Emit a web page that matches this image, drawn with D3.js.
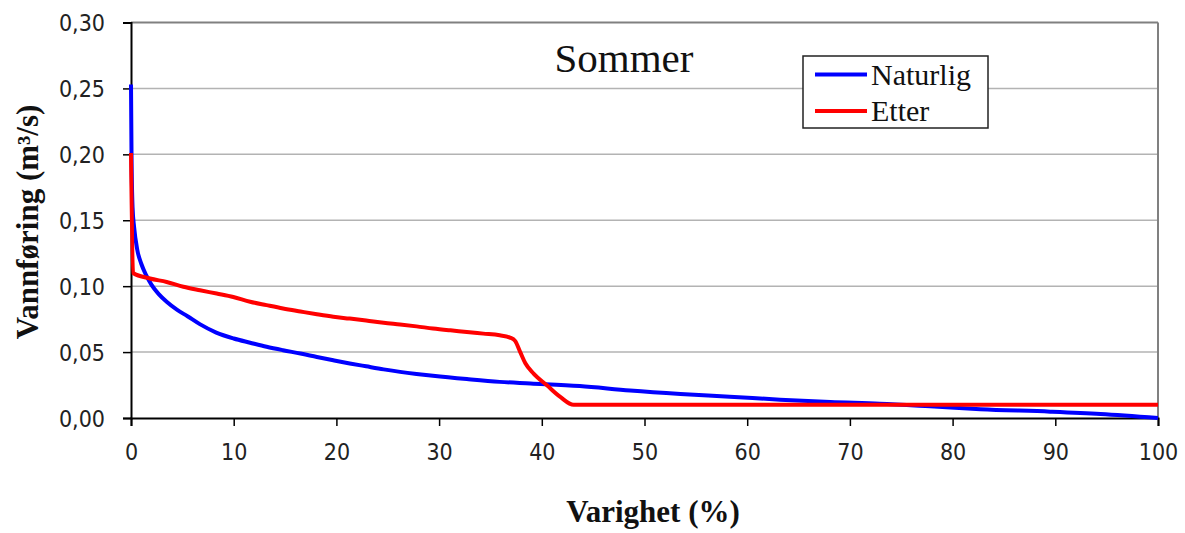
<!DOCTYPE html>
<html>
<head>
<meta charset="utf-8">
<script src="https://cdn.jsdelivr.net/npm/d3@7/dist/d3.min.js"></script>
<style>
  html, body { margin: 0; padding: 0; background: #fff; }
  svg { display: block; }
</style>
</head>
<body>
<svg id="chart" width="1185" height="533"></svg>
<script>
// ---- Data ----
const title = "Sommer";
const xLabel = "Varighet (%)";
const yLabel = "Vannføring (m³/s)";
const seriesNames = ["Naturlig", "Etter"];
const xTicks = [0, 10, 20, 30, 40, 50, 60, 70, 80, 90, 100];
const yTicks = [0, 0.05, 0.10, 0.15, 0.20, 0.25, 0.30];

const naturligX = [0, 0.05, 0.15, 0.3, 0.6, 1.0, 1.5, 2.0, 2.7, 3.5, 4.5, 5.5, 6.7, 8.3, 10, 11.6, 13.2, 14.8, 16.5, 18.1, 19.7, 21.3, 22.9, 24.6, 26.2, 27.8, 29.4, 32.7, 35.9, 38.9, 43.7, 48.6, 53.5, 58.3, 63.2, 68.1, 72.9, 77.8, 82.7, 89.5, 94.4, 100];
const naturligY = [0.253, 0.20, 0.16, 0.145, 0.128, 0.117, 0.108, 0.101, 0.094, 0.088, 0.082, 0.0772, 0.0712, 0.0648, 0.0603, 0.0571, 0.054, 0.0514, 0.0489, 0.0463, 0.0438, 0.0414, 0.0392, 0.0369, 0.0350, 0.0334, 0.0320, 0.0295, 0.0274, 0.0262, 0.0242, 0.0208, 0.0182, 0.0162, 0.0139, 0.0121, 0.0109, 0.0089, 0.0067, 0.0048, 0.003, 0];

const etterX = [0, 0.2, 1.85, 3.47, 5.1, 6.72, 8.34, 9.96, 11.6, 13.2, 14.8, 16.5, 18.1, 19.7, 21.3, 22.9, 24.6, 26.2, 27.8, 29.4, 31.1, 32.7, 34.3, 35.9, 36.9, 37.4, 37.9, 38.4, 39.2, 40.5, 41.8, 43.1, 100];
const etterY = [0.201, 0.11, 0.1058, 0.1032, 0.0996, 0.0969, 0.0944, 0.0918, 0.0882, 0.0856, 0.0831, 0.0808, 0.0787, 0.0768, 0.0754, 0.0739, 0.0722, 0.0709, 0.0695, 0.0679, 0.0665, 0.0653, 0.064, 0.0627, 0.061, 0.0585, 0.050, 0.0415, 0.0337, 0.0248, 0.016, 0.01, 0.01];

const colors = ["#0000ff", "#ff0000"];

// ---- Layout ----
const svg = d3.select("#chart");
const L = 131, R = 1158, T = 22.5, B = 418;

const x = d3.scaleLinear().domain([0, 100]).range([L, R]);
const y = d3.scaleLinear().domain([0, 0.30]).range([B, T]);

const fmt = d => d3.format(".2f")(d).replace(".", ",");

// gridlines
svg.append("g")
  .selectAll("line")
  .data(yTicks.filter(d => d > 0 && d < 0.30))
  .join("line")
  .attr("x1", L).attr("x2", R)
  .attr("y1", d => y(d)).attr("y2", d => y(d))
  .attr("stroke", "#b3b3b3").attr("stroke-width", 1.5);

// top and right border (plot area)
svg.append("line").attr("x1", L).attr("x2", R).attr("y1", T).attr("y2", T)
  .attr("stroke", "#808080").attr("stroke-width", 2);
svg.append("line").attr("x1", R).attr("x2", R).attr("y1", T).attr("y2", B)
  .attr("stroke", "#808080").attr("stroke-width", 2);

// axes
const tickFont = "'DejaVu Sans Condensed', 'DejaVu Sans', sans-serif";
const yAxis = svg.append("g").attr("transform", `translate(${L},0)`)
  .call(d3.axisLeft(y).tickValues(yTicks).tickFormat(fmt).tickSize(8).tickPadding(18));
const xAxis = svg.append("g").attr("transform", `translate(0,${B})`)
  .call(d3.axisBottom(x).tickValues(xTicks).tickFormat(d3.format("d")).tickSize(8).tickPadding(18));

[xAxis, yAxis].forEach(g => {
  g.select(".domain").attr("stroke", "#000").attr("stroke-width", 2);
  g.selectAll(".tick line").attr("stroke", "#000").attr("stroke-width", 1.5);
  g.selectAll(".tick text")
    .attr("fill", "#222")
    .style("font-family", tickFont)
    .style("font-size", "23px");
});
yAxis.selectAll(".tick text").attr("dy", "0.36em");

// lines
const line = d3.line().x(d => x(d[0])).y(d => y(d[1])).curve(d3.curveMonotoneX);
const naturlig = naturligX.map((v, i) => [v, naturligY[i]]);
const etter = etterX.map((v, i) => [v, etterY[i]]);

svg.append("path").datum(naturlig).attr("d", line)
  .attr("fill", "none").attr("stroke", colors[0]).attr("stroke-width", 4)
  .attr("stroke-linejoin", "round");
svg.append("path").datum(etter).attr("d", line)
  .attr("fill", "none").attr("stroke", colors[1]).attr("stroke-width", 4)
  .attr("stroke-linejoin", "round");

// title
const serif = "'Liberation Serif', 'Times New Roman', serif";
svg.append("text").attr("x", 624).attr("y", 72).attr("text-anchor", "middle")
  .style("font-family", serif).style("font-size", "41px").attr("fill", "#111")
  .text(title);

// axis titles
svg.append("text").attr("x", 653).attr("y", 522).attr("text-anchor", "middle")
  .style("font-family", serif).style("font-size", "31px").style("font-weight", "bold")
  .attr("fill", "#111").text(xLabel);
svg.append("text").attr("transform", "translate(38,222) rotate(-90)").attr("text-anchor", "middle")
  .style("font-family", serif).style("font-size", "31px").style("font-weight", "bold")
  .attr("fill", "#111").text(yLabel);

// legend
const lg = svg.append("g");
lg.append("rect").attr("x", 803).attr("y", 56).attr("width", 185).attr("height", 72)
  .attr("fill", "#fff").attr("stroke", "#222").attr("stroke-width", 1.5);
seriesNames.forEach((n, i) => {
  const yy = 74.5 + i * 36.5;
  lg.append("line").attr("x1", 815).attr("x2", 867).attr("y1", yy).attr("y2", yy)
    .attr("stroke", colors[i]).attr("stroke-width", 4);
  lg.append("text").attr("x", 871).attr("y", yy + 10)
    .style("font-family", serif).style("font-size", "30px").attr("fill", "#111")
    .text(n);
});
</script>
</body>
</html>
